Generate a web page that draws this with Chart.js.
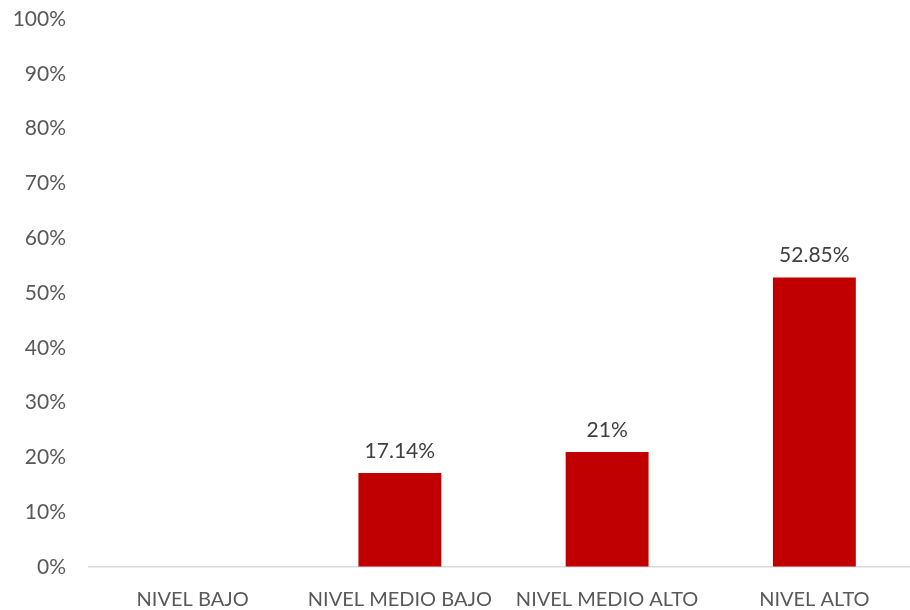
<!DOCTYPE html>
<html>
<head>
<meta charset="utf-8">
<script src="https://cdn.jsdelivr.net/npm/chart.js@4/dist/chart.umd.min.js"></script>
<style>
    html, body { margin: 0; padding: 0; background: #fff; overflow: hidden; }
    #wrap { width: 918px; height: 610px; }
</style>
</head>
<body>
<div id="wrap"><canvas id="nivelChart" width="918" height="610"></canvas></div>
<script>
const categories = ['NIVEL BAJO', 'NIVEL MEDIO BAJO', 'NIVEL MEDIO ALTO', 'NIVEL ALTO'];
const values = [0, 17.14, 21, 52.85];
const valueLabels = ['', '17.14%', '21%', '52.85%'];
const yTicks = [0, 10, 20, 30, 40, 50, 60, 70, 80, 90, 100];

const fontFamily = 'Lato, "Open Sans", sans-serif';

// writes the percentage above each bar
const barValueLabels = {
    id: 'barValueLabels',
    afterDatasetsDraw(chart) {
        const ctx = chart.ctx;
        const meta = chart.getDatasetMeta(0);
        ctx.save();
        ctx.font = '21px ' + fontFamily;
        ctx.fillStyle = '#404040';
        ctx.textAlign = 'center';
        ctx.textBaseline = 'middle';
        meta.data.forEach((bar, i) => {
            if (!valueLabels[i]) return;
            ctx.fillText(valueLabels[i], bar.x, bar.y - 22);
        });
        ctx.restore();
    }
};

new Chart(document.getElementById('nivelChart'), {
    type: 'bar',
    data: {
        labels: categories,
        datasets: [{
            data: values,
            backgroundColor: '#C00000',
            borderWidth: 0,
            barPercentage: 0.4,
            categoryPercentage: 1
        }]
    },
    options: {
        responsive: false,
        animation: false,
        layout: { padding: { top: 19, right: 0, bottom: 0, left: 0 } },
        plugins: {
            legend: { display: false },
            tooltip: { enabled: false }
        },
        scales: {
            x: {
                grid: { display: false, drawTicks: false },
                border: { display: true, color: '#d9d9d9', width: 1.5 },
                ticks: {
                    color: '#595959',
                    font: { family: fontFamily, size: 20 },
                    padding: 21,
                    maxRotation: 0,
                    autoSkip: false
                },
                afterFit(scale) { scale.height = 43; }
            },
            y: {
                min: 0,
                max: 100,
                afterBuildTicks(scale) {
                    scale.ticks = yTicks.map(v => ({ value: v }));
                },
                // invisible tick marks keep the labels clear of the plot
                grid: {
                    drawOnChartArea: false,
                    drawTicks: true,
                    tickLength: 23,
                    color: 'rgba(0,0,0,0)'
                },
                border: { display: false },
                ticks: {
                    color: '#595959',
                    font: { family: fontFamily, size: 21 },
                    padding: 0,
                    callback: v => v + '%'
                },
                afterFit(scale) { scale.width = 89; }
            }
        }
    },
    plugins: [barValueLabels]
});
</script>
</body>
</html>
